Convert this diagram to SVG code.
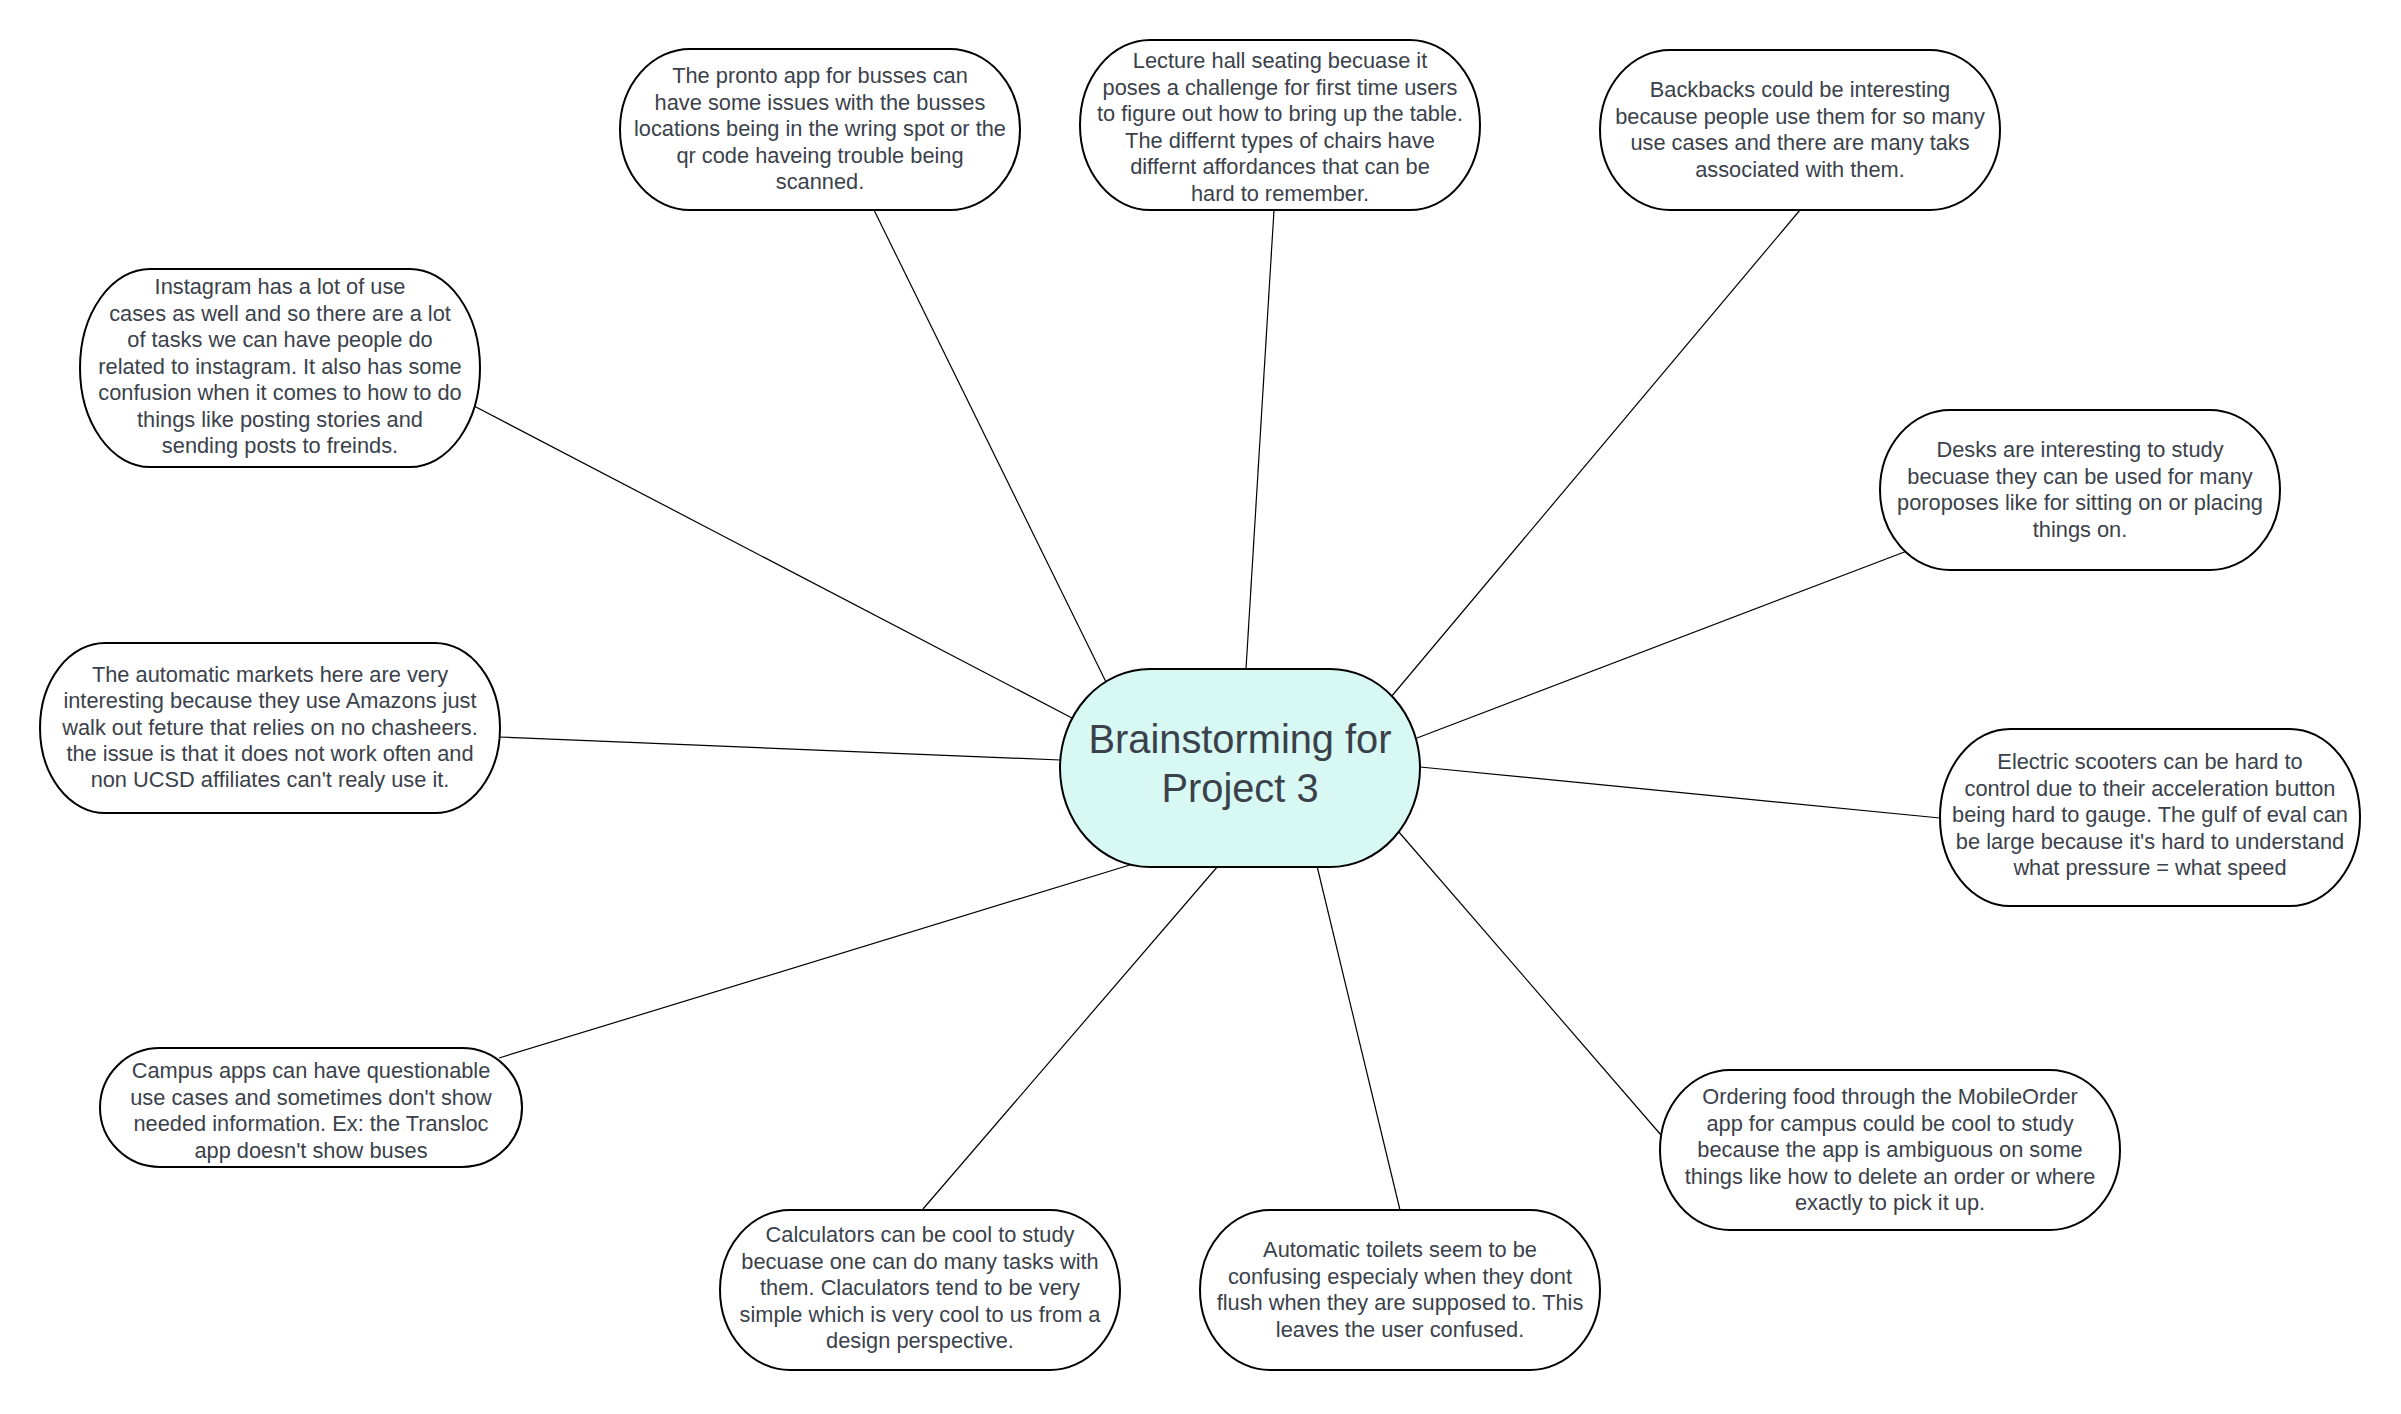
<svg xmlns="http://www.w3.org/2000/svg" width="2401" height="1414" viewBox="0 0 2401 1414">
<style>
.node{fill:#ffffff;stroke:#000000;stroke-width:2}
.main{fill:#d7f8f3;stroke:#000000;stroke-width:2}
.t{font-family:"Liberation Sans",Arial,sans-serif;font-size:21.8px;fill:#3a414a;text-anchor:middle}
.tm{font-family:"Liberation Sans",Arial,sans-serif;font-size:39.8px;fill:#3a414a;text-anchor:middle}
.c line{stroke:#000000;stroke-width:1.2;fill:none}
</style>
<rect width="2401" height="1414" fill="#ffffff"/>
<g class="c" id="connectors">
<line x1="874" y1="210" x2="1106" y2="682"/>
<line x1="1274" y1="210" x2="1246" y2="669"/>
<line x1="1800" y1="210" x2="1391" y2="697"/>
<line x1="1907" y1="551" x2="1417" y2="738"/>
<line x1="1940" y1="818" x2="1420" y2="767"/>
<line x1="1661" y1="1135" x2="1398" y2="831"/>
<line x1="1400" y1="1210" x2="1317" y2="866"/>
<line x1="923" y1="1209" x2="1218" y2="866"/>
<line x1="499" y1="1058" x2="1133" y2="864"/>
<line x1="499" y1="737" x2="1060" y2="760"/>
<line x1="474" y1="406" x2="1072" y2="718"/>
</g>
<g id="center">
<rect class="main" x="1060" y="669" width="360" height="198" rx="90" ry="99"/>
<text class="tm" x="1240"><tspan x="1240" y="753">Brainstorming for</tspan><tspan x="1240" y="801.5">Project 3</tspan></text>
</g>
<g id="pronto">
<rect class="node" x="620" y="49" width="400" height="161" rx="70" ry="80.5"/>
<text class="t"><tspan x="820" y="83">The pronto app for busses can</tspan><tspan x="820" y="109.5">have some issues with the busses</tspan><tspan x="820" y="136">locations being in the wring spot or the</tspan><tspan x="820" y="162.5">qr code haveing trouble being</tspan><tspan x="820" y="189">scanned.</tspan></text>
</g>
<g id="lecture">
<rect class="node" x="1080" y="40" width="400" height="170" rx="70" ry="85"/>
<text class="t"><tspan x="1280" y="68">Lecture hall seating becuase it</tspan><tspan x="1280" y="94.5">poses a challenge for first time users</tspan><tspan x="1280" y="121">to figure out how to bring up the table.</tspan><tspan x="1280" y="147.5">The differnt types of chairs have</tspan><tspan x="1280" y="174">differnt affordances that can be</tspan><tspan x="1280" y="200.5">hard to remember.</tspan></text>
</g>
<g id="backpacks">
<rect class="node" x="1600" y="50" width="400" height="160" rx="70" ry="80"/>
<text class="t"><tspan x="1800" y="97">Backbacks could be interesting</tspan><tspan x="1800" y="123.5">because people use them for so many</tspan><tspan x="1800" y="150">use cases and there are many taks</tspan><tspan x="1800" y="176.5">associated with them.</tspan></text>
</g>
<g id="instagram">
<rect class="node" x="80" y="269" width="400" height="198" rx="70" ry="99"/>
<text class="t"><tspan x="280" y="294">Instagram has a lot of use</tspan><tspan x="280" y="320.5">cases as well and so there are a lot</tspan><tspan x="280" y="347">of tasks we can have people do</tspan><tspan x="280" y="373.5">related to instagram. It also has some</tspan><tspan x="280" y="400">confusion when it comes to how to do</tspan><tspan x="280" y="426.5">things like posting stories and</tspan><tspan x="280" y="453">sending posts to freinds.</tspan></text>
</g>
<g id="desks">
<rect class="node" x="1880" y="410" width="400" height="160" rx="70" ry="80"/>
<text class="t"><tspan x="2080" y="457">Desks are interesting to study</tspan><tspan x="2080" y="483.5">becuase they can be used for many</tspan><tspan x="2080" y="510">poroposes like for sitting on or placing</tspan><tspan x="2080" y="536.5">things on.</tspan></text>
</g>
<g id="markets">
<rect class="node" x="40" y="643" width="460" height="170" rx="65" ry="85"/>
<text class="t"><tspan x="270" y="682">The automatic markets here are very</tspan><tspan x="270" y="708.3">interesting because they use Amazons just</tspan><tspan x="270" y="734.6">walk out feture that relies on no chasheers.</tspan><tspan x="270" y="760.9">the issue is that it does not work often and</tspan><tspan x="270" y="787.2">non UCSD affiliates can't realy use it.</tspan></text>
</g>
<g id="scooters">
<rect class="node" x="1940" y="729" width="420" height="177" rx="70" ry="88.5"/>
<text class="t"><tspan x="2150" y="769">Electric scooters can be hard to</tspan><tspan x="2150" y="795.5">control due to their acceleration button</tspan><tspan x="2150" y="822">being hard to gauge. The gulf of eval can</tspan><tspan x="2150" y="848.5">be large because it's hard to understand</tspan><tspan x="2150" y="875">what pressure = what speed</tspan></text>
</g>
<g id="ordering">
<rect class="node" x="1660" y="1070" width="460" height="160" rx="70" ry="80"/>
<text class="t"><tspan x="1890" y="1104">Ordering food through the MobileOrder</tspan><tspan x="1890" y="1130.5">app for campus could be cool to study</tspan><tspan x="1890" y="1157">because the app is ambiguous on some</tspan><tspan x="1890" y="1183.5">things like how to delete an order or where</tspan><tspan x="1890" y="1210">exactly to pick it up.</tspan></text>
</g>
<g id="toilets">
<rect class="node" x="1200" y="1210" width="400" height="160" rx="70" ry="80"/>
<text class="t"><tspan x="1400" y="1257">Automatic toilets seem to be</tspan><tspan x="1400" y="1283.5">confusing especialy when they dont</tspan><tspan x="1400" y="1310">flush when they are supposed to. This</tspan><tspan x="1400" y="1336.5">leaves the user confused.</tspan></text>
</g>
<g id="calculators">
<rect class="node" x="720" y="1210" width="400" height="160" rx="70" ry="80"/>
<text class="t"><tspan x="920" y="1242">Calculators can be cool to study</tspan><tspan x="920" y="1268.5">becuase one can do many tasks with</tspan><tspan x="920" y="1295">them. Claculators tend to be very</tspan><tspan x="920" y="1321.5">simple which is very cool to us from a</tspan><tspan x="920" y="1348">design perspective.</tspan></text>
</g>
<g id="campus">
<rect class="node" x="100" y="1048" width="422" height="119" rx="60" ry="59.5"/>
<text class="t"><tspan x="311" y="1078">Campus apps can have questionable</tspan><tspan x="311" y="1104.5">use cases and sometimes don't show</tspan><tspan x="311" y="1131">needed information. Ex: the Transloc</tspan><tspan x="311" y="1157.5">app doesn't show buses</tspan></text>
</g>
</svg>
